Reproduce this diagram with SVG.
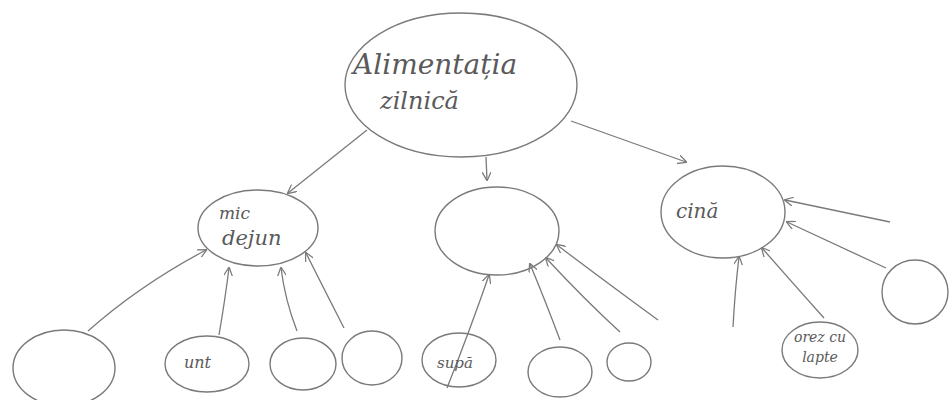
<svg xmlns="http://www.w3.org/2000/svg" width="951" height="400" viewBox="0 0 951 400">
<style>
.n{fill:none;stroke:#7a7a7a;stroke-width:1.4}
.c{fill:none;stroke:#7a7a7a;stroke-width:1.3}
.t{font-family:"DejaVu Serif","Liberation Serif",serif;font-style:italic;fill:#5a5a5a}
</style>
<defs>
<marker id="ah" viewBox="0 0 10 10" refX="9" refY="5" markerWidth="9" markerHeight="9" markerUnits="userSpaceOnUse" orient="auto">
<path d="M0,0 L10,5 L0,10" fill="none" stroke="#7a7a7a" stroke-width="1.4"/>
</marker>
</defs>
<rect width="951" height="400" fill="#ffffff"/>
<g id="connectors">
<path class="c" d="M367,130 L288,193" marker-end="url(#ah)"/>
<path class="c" d="M486,157 L487,180" marker-end="url(#ah)"/>
<path class="c" d="M571,121 Q630,142 686,162" marker-end="url(#ah)"/>
<path class="c" d="M88,331 Q140,285 206,250" marker-end="url(#ah)"/>
<path class="c" d="M219,335 Q225,300 229,268" marker-end="url(#ah)"/>
<path class="c" d="M297,331 Q285,300 281,268" marker-end="url(#ah)"/>
<path class="c" d="M344,328 Q322,285 306,253" marker-end="url(#ah)"/>
<path class="c" d="M447,388 Q470,330 489,275" marker-end="url(#ah)"/>
<path class="c" d="M560,340 Q545,300 530,264" marker-end="url(#ah)"/>
<path class="c" d="M620,332 Q585,300 546,258" marker-end="url(#ah)"/>
<path class="c" d="M658,320 Q610,285 557,245" marker-end="url(#ah)"/>
<path class="c" d="M890,222 L785,200" marker-end="url(#ah)"/>
<path class="c" d="M886,268 L787,222" marker-end="url(#ah)"/>
<path class="c" d="M733,327 Q735,290 739,257" marker-end="url(#ah)"/>
<path class="c" d="M824,318 Q790,280 762,248" marker-end="url(#ah)"/>
</g>
<g id="root">
<ellipse class="n" cx="461" cy="85" rx="116" ry="72"/>
<text class="t" x="353" y="74" font-size="28">Alimentația</text>
<text class="t" x="380" y="109" font-size="24">zilnică</text>
</g>
<g id="micdejun">
<ellipse class="n" cx="258" cy="228" rx="60" ry="38"/>
<text class="t" x="219" y="219" font-size="17">mic</text>
<text class="t" x="222" y="245" font-size="21">dejun</text>
</g>
<g id="pranz">
<ellipse class="n" cx="497" cy="231" rx="62" ry="44"/>
</g>
<g id="cina">
<ellipse class="n" cx="723" cy="212" rx="62" ry="46"/>
<text class="t" x="676" y="218" font-size="20">cină</text>
</g>
<g id="n1"><ellipse class="n" cx="64" cy="368" rx="51" ry="38"/></g>
<g id="unt">
<ellipse class="n" cx="207" cy="364" rx="42" ry="28"/>
<text class="t" x="184" y="368" font-size="16">unt</text>
</g>
<g id="n3"><ellipse class="n" cx="303" cy="364" rx="33" ry="26"/></g>
<g id="n4"><ellipse class="n" cx="372" cy="358" rx="30" ry="27"/></g>
<g id="supa">
<ellipse class="n" cx="459" cy="360" rx="37" ry="27"/>
<text class="t" x="437" y="368" font-size="15">supă</text>
</g>
<g id="n6"><ellipse class="n" cx="560" cy="372" rx="32" ry="25"/></g>
<g id="n7"><ellipse class="n" cx="629" cy="362" rx="22" ry="19"/></g>
<g id="orez">
<ellipse class="n" cx="820" cy="350" rx="38" ry="28"/>
<text class="t" x="820" y="342" font-size="14" text-anchor="middle">orez cu</text>
<text class="t" x="820" y="362" font-size="14" text-anchor="middle">lapte</text>
</g>
<g id="n9"><ellipse class="n" cx="915" cy="292" rx="33" ry="32"/></g>
</svg>
